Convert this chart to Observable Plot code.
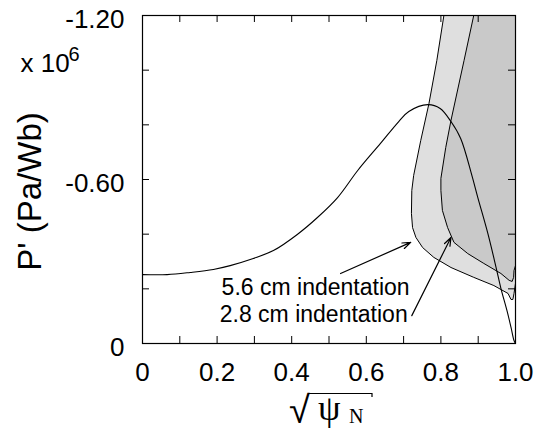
<!DOCTYPE html>
<html><head><meta charset="utf-8">
<script src="https://cdn.jsdelivr.net/npm/d3@7"></script>
<script src="https://cdn.jsdelivr.net/npm/@observablehq/plot@0.6"></script>
<style>body{margin:0;background:#fff}#chart{width:539px;height:429px}</style>
</head><body><div id="chart"></div>
<script>
// P' profile vs sqrt(psi_N), units of 1e6 Pa/Wb (negative)
const profileX = [0, 0.066, 0.128, 0.190, 0.235, 0.297, 0.351, 0.415, 0.469, 0.523, 0.577, 0.638, 0.687, 0.714, 0.765, 0.798, 0.827, 0.853, 0.883, 0.899, 0.926, 0.948, 0.961, 0.977, 0.988, 0.996, 1.0];
const profileY = [-0.252, -0.252, -0.260, -0.271, -0.285, -0.311, -0.340, -0.399, -0.461, -0.534, -0.633, -0.732, -0.812, -0.849, -0.874, -0.860, -0.812, -0.750, -0.615, -0.534, -0.402, -0.278, -0.201, -0.121, -0.059, -0.011, 0];
// 5.6 cm indentation unstable-region boundary
const ind56X = [0.808, 0.789, 0.768, 0.746, 0.727, 0.722, 0.721, 0.724, 0.733, 0.751, 0.781, 0.827, 0.888, 0.942, 0.980, 0.988, 0.993, 0.996, 1.0, 1.0];
const ind56Y = [-1.200, -1.035, -0.878, -0.743, -0.615, -0.560, -0.476, -0.424, -0.388, -0.351, -0.315, -0.278, -0.242, -0.212, -0.183, -0.161, -0.161, -0.183, -0.220, -1.200];
// 2.8 cm indentation unstable-region boundary
const ind28X = [0.888, 0.862, 0.827, 0.813, 0.800, 0.800, 0.804, 0.818, 0.835, 0.872, 0.915, 0.961, 0.983, 0.991, 0.995, 0.996, 1.0, 1.0];
const ind28Y = [-1.200, -1.035, -0.816, -0.717, -0.604, -0.560, -0.487, -0.424, -0.370, -0.329, -0.293, -0.256, -0.231, -0.227, -0.242, -0.267, -0.285, -1.200];

const xTicks = [0, 0.1, 0.2, 0.3, 0.4, 0.5, 0.6, 0.7, 0.8, 0.9, 1.0];
const xLabelValues = [0, 0.2, 0.4, 0.6, 0.8, 1.0];
const xLabelText = ["0", "0.2", "0.4", "0.6", "0.8", "1.0"];
const yTicks = [0, -0.2, -0.4, -0.6, -0.8, -1.0, -1.2];
const yLabelValues = [0, -0.6, -1.2];
const yLabelText = ["0", "-0.60", "-1.20"];

const noteText = ["5.6 cm indentation", "2.8 cm indentation"];
const noteX = [0.716, 0.711];
const noteY = [-0.206, -0.104];
const arrowX1 = [0.531, 0.722];
const arrowY1 = [-0.256, -0.102];
const arrowX2 = [0.719, 0.827];
const arrowY2 = [-0.370, -0.388];

const W = 539, H = 429, mL = 142, mR = 24, mT = 15, mB = 86;
const pw = W - mL - mR, ph = H - mT - mB;
const pts = (xs, ys) => xs.map((x, i) => ({x, y: ys[i]}));
const profile = pts(profileX, profileY);
const shade56 = pts(ind56X, ind56Y);
const shade28 = pts(ind28X, ind28Y);
const sans = "'Liberation Sans', Arial, Helvetica, sans-serif";

const plot = Plot.plot({
  width: W, height: H,
  marginLeft: mL, marginRight: mR, marginTop: mT, marginBottom: mB,
  style: {fontFamily: sans, fontSize: "26px", color: "#000", background: "#fff", overflow: "visible"},
  x: {domain: [0, 1], label: null},
  y: {domain: [0, -1.2], label: null},
  marks: [
    Plot.line(shade56, {x: "x", y: "y", fill: "#dfdfdf", stroke: "#000", strokeWidth: 1}),
    Plot.line(shade28, {x: "x", y: "y", fill: "#c9c9c9", stroke: "#000", strokeWidth: 1}),
    Plot.line(profile, {x: "x", y: "y", stroke: "#000", strokeWidth: 1.1, curve: "catmull-rom"}),
    Plot.frame({stroke: "#000", strokeWidth: 1.2}),
    Plot.tickX(xTicks, {x: d => d, insetTop: ph - 7, stroke: "#000"}),
    Plot.tickX(xTicks, {x: d => d, insetBottom: ph - 7, stroke: "#000"}),
    Plot.tickY(yTicks, {y: d => d, insetRight: pw - 7, stroke: "#000"}),
    Plot.tickY(yTicks, {y: d => d, insetLeft: pw - 7, stroke: "#000"}),
    Plot.axisX({ticks: xLabelValues, tickSize: 0, tickPadding: 19, label: null,
      tickFormat: d => xLabelText[xLabelValues.indexOf(d)], fontSize: 26}),
    Plot.axisY({ticks: yLabelValues, tickSize: 0, tickPadding: 18, label: null, dy: 4,
      tickFormat: d => yLabelText[yLabelValues.indexOf(d)], fontSize: 26}),
    Plot.text(["P' (Pa/Wb)"], {text: d => d, frameAnchor: "left", textAnchor: "middle", rotate: -90, dx: -112, dy: 12, fontSize: 33}),
    Plot.text(["x 10"], {text: d => d, frameAnchor: "top-left", textAnchor: "start", dx: -122, dy: 38, fontSize: 26}),
    Plot.text(["6"], {text: d => d, frameAnchor: "top-left", textAnchor: "start", dx: -74, dy: 31, fontSize: 20}),
    Plot.text(noteText, {x: (d, i) => noteX[i], y: (d, i) => noteY[i], text: d => d, textAnchor: "end", fontSize: 23}),
    Plot.arrow(arrowX1, {x1: (d, i) => arrowX1[i], y1: (d, i) => arrowY1[i], x2: (d, i) => arrowX2[i], y2: (d, i) => arrowY2[i],
      stroke: "#000", strokeWidth: 1.2, headLength: 11, headAngle: 40})
  ]
});
document.getElementById("chart").appendChild(plot);

// x-axis title: sqrt(psi_N)
const svg = d3.select(plot);
const g = svg.append("g").attr("fill", "#000").attr("text-anchor", "start");
g.append("text").attr("x", 289).attr("y", 423).attr("text-anchor", "start").style("font-family", "'Liberation Sans', Arial, sans-serif").style("font-size", "38px").text("√");
g.append("text").attr("x", 318).attr("y", 420).attr("text-anchor", "start").style("font-family", "'Liberation Serif', 'Times New Roman', serif").style("font-size", "36px").text("ψ");
g.append("text").attr("x", 349).attr("y", 423).attr("text-anchor", "start").style("font-family", "'Liberation Serif', 'Times New Roman', serif").style("font-size", "20px").text("N");
svg.append("path").attr("d", "M309,393.5H372V397").attr("stroke", "#000").attr("stroke-width", 1.2).attr("fill", "none");
</script>
</body></html>
